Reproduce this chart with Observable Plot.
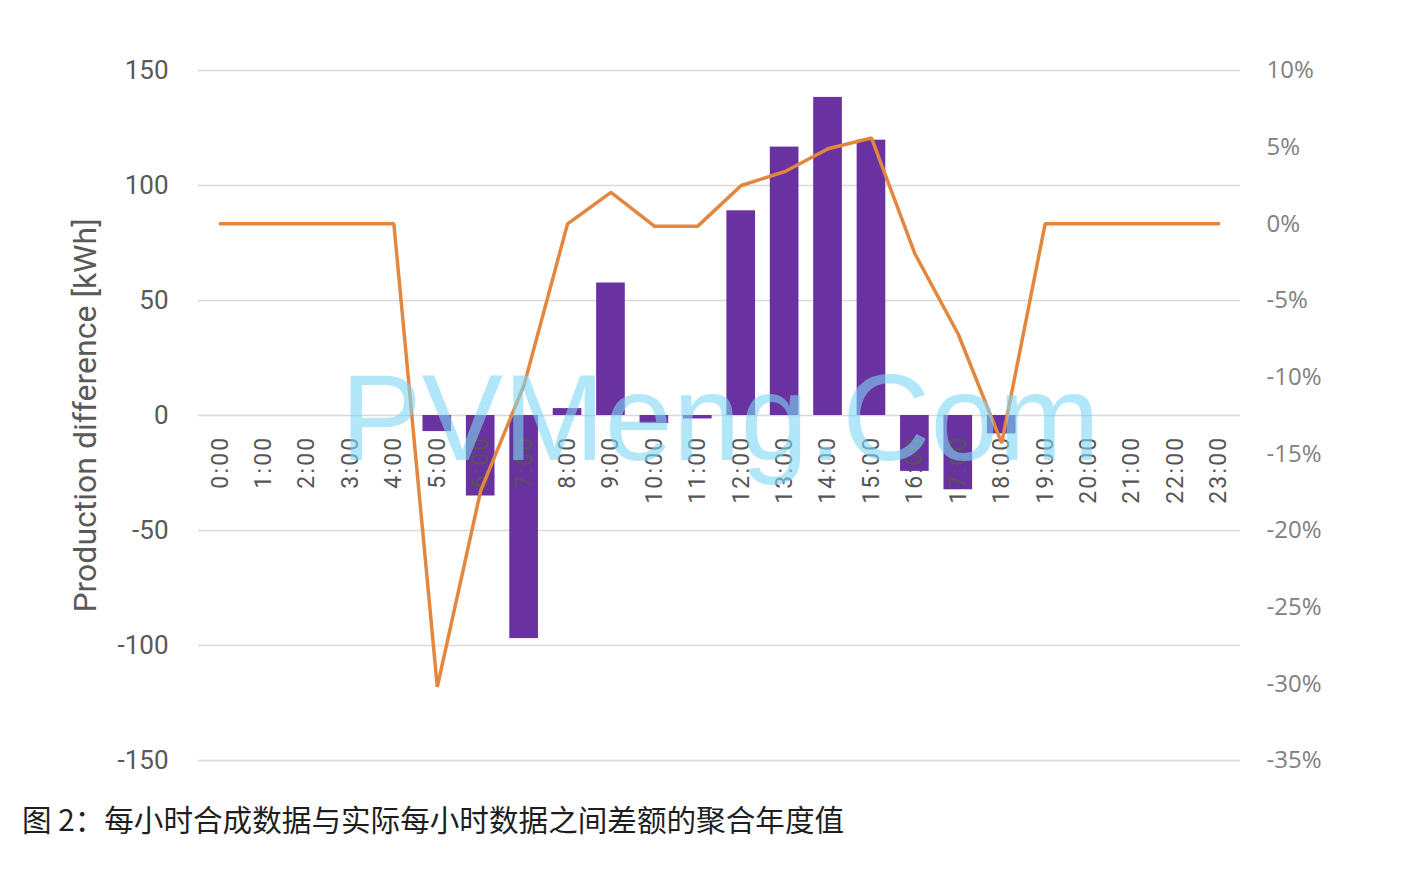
<!DOCTYPE html>
<html>
<head>
<meta charset="utf-8">
<script src="https://cdn.jsdelivr.net/npm/d3@7"></script>
<script src="https://cdn.jsdelivr.net/npm/@observablehq/plot@0.6"></script>
<style>
  html, body { margin: 0; padding: 0; background: #fff; }
  #wrap { position: relative; width: 1420px; height: 886px; }
  #caption {
    position: absolute; left: 22px; top: 804px;
    font-family: "Noto Sans CJK SC", sans-serif; font-size: 29.6px; line-height: 1;
    color: #1e1e1e; white-space: nowrap;
  }
</style>
</head>
<body>
<div id="wrap">
  <div id="chart"></div>
  <div id="caption">图 2：每小时合成数据与实际每小时数据之间差额的聚合年度值</div>
</div>
<script>
// ---- data ----
const hours = ["0:00","1:00","2:00","3:00","4:00","5:00","6:00","7:00","8:00","9:00","10:00","11:00",
               "12:00","13:00","14:00","15:00","16:00","17:00","18:00","19:00","20:00","21:00","22:00","23:00"];
// production difference [kWh] (bars, left axis); null = no bar
const diffKWh = [null,null,null,null,null,-7,-35,-97,3,57.6,-3.5,-1.5,89,116.7,138.3,119.7,-24.3,-32.3,-8,null,null,null,null,null];
// relative difference [%] (line, right axis)
const pctDiff = [0,0,0,0,0,-30.2,-17.4,-10.5,0,2.05,-0.15,-0.15,2.5,3.4,4.9,5.6,-1.95,-7.2,-14.3,0,0,0,0,0];
const leftTicks = [-150,-100,-50,0,50,100,150];
const rightTicks = [-35,-30,-25,-20,-15,-10,-5,0,5,10];
const yLabel = "Production difference [kWh]";
const watermark = ["PVMeng.Com"];

// ---- helpers ----
const leftDomain = [-150, 150];
const rightDomain = [-35, 10];
const toLeft = p => leftDomain[0] + (p - rightDomain[0]) * (leftDomain[1] - leftDomain[0]) / (rightDomain[1] - rightDomain[0]);
const fromLeft = v => rightDomain[0] + (v - leftDomain[0]) * (rightDomain[1] - rightDomain[0]) / (leftDomain[1] - leftDomain[0]);

const data = hours.map((h, i) => ({hour: h, kwh: diffKWh[i], pct: pctDiff[i]}));

const chart = Plot.plot({
  width: 1420,
  height: 790,
  marginTop: 70,
  marginBottom: 30,
  marginLeft: 198,
  marginRight: 180,
  style: {fontFamily: "Roboto, sans-serif", background: "#fff"},
  x: {type: "band", domain: hours, paddingInner: 0.34, paddingOuter: 0.17, round: false, axis: null},
  y: {domain: leftDomain, nice: false},
  marks: [
    Plot.ruleY(leftTicks, {stroke: "#d9d9d9", strokeWidth: 1.5}),
    Plot.axisY({ticks: leftTicks, tickSize: 0, tickPadding: 30, tickFormat: d => String(d),
                fontSize: 26, fill: "#595959", label: null}),
    Plot.axisY({anchor: "right", ticks: rightTicks.map(toLeft), tickSize: 0, tickPadding: 26,
                tickFormat: d => Math.round(fromLeft(d)) + "%",
                fontSize: 24, fontFamily: "Open Sans", fill: "#808080", label: null}),
    Plot.barY(data.filter(d => d.kwh != null), {x: "hour", y: "kwh", fill: "#6a31a0"}),
    Plot.text(data, {x: "hour", y: 0, text: "hour", rotate: -90, textAnchor: "end", lineAnchor: "middle",
                     dy: 20, fontSize: 23, fill: "#555555"}),
    Plot.text([yLabel], {text: d => d, frameAnchor: "left", textAnchor: "middle", rotate: -90, dx: -113,
                         fontSize: 32, fill: "#595959"}),
    Plot.line(data, {x: "hour", y: d => toLeft(d.pct), stroke: "#e3873f", strokeWidth: 3.5,
                     strokeLinejoin: "miter", strokeLinecap: "round"}),
    Plot.text(watermark, {text: d => d, frameAnchor: "top-left", textAnchor: "start", lineAnchor: "top",
                          dx: 142, dy: 303, fontSize: 122, fontFamily: "Liberation Sans",
                          fill: "#7fd6f5", fillOpacity: 0.6})
  ]
});

// letter spacing for the rotated hour labels
chart.querySelectorAll("text").forEach(t => {
  if (/^\d+:00$/.test(t.textContent)) t.setAttribute("letter-spacing", "2.2");
});

document.getElementById("chart").appendChild(chart);
</script>
</body>
</html>
